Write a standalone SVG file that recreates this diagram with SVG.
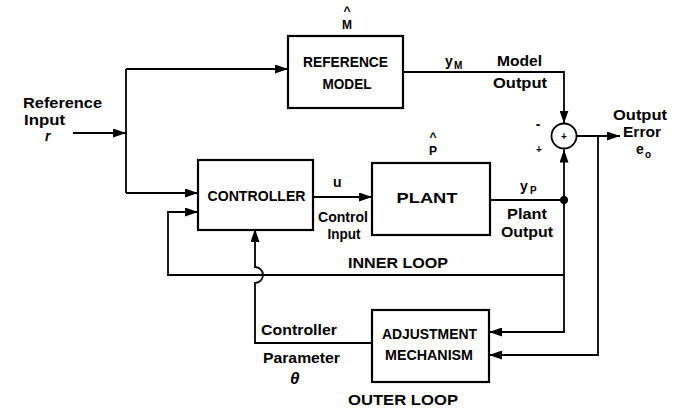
<svg xmlns="http://www.w3.org/2000/svg" width="674" height="410" viewBox="0 0 674 410">
<style>
.box{fill:#fff;stroke:#000;stroke-width:2.2}
.ln{fill:none;stroke:#000;stroke-width:1.8}
.bl{font-family:"Liberation Sans",Arial,sans-serif;font-weight:bold;font-size:15px;fill:#000}
.lb{font-family:"Liberation Sans",Arial,sans-serif;font-weight:bold;font-size:14px;fill:#000}
.sb{font-family:"Liberation Sans",Arial,sans-serif;font-weight:bold;font-size:10px;fill:#000}
.hat{font-family:"Liberation Sans",Arial,sans-serif;font-weight:bold;font-size:12px;fill:#000}
.it{font-family:"Liberation Sans",Arial,sans-serif;font-weight:bold;font-style:italic;font-size:17px;fill:#000}
</style>
<defs>
<marker id="ah" markerUnits="userSpaceOnUse" markerWidth="13" markerHeight="9" refX="13" refY="4.5" orient="auto">
<path d="M0,0 L13,4.5 L0,9 z" fill="#000"/>
</marker>
</defs>
<rect width="674" height="410" fill="#fff"/>

<g id="connectors">
<path class="ln" d="M73,133 L126,133" marker-end="url(#ah)"/>
<path class="ln" d="M126,69 L126,193"/>
<path class="ln" d="M126,69 L288,69" marker-end="url(#ah)"/>
<path class="ln" d="M126,193 L198,193" marker-end="url(#ah)"/>
<path class="ln" d="M313,197 L372,197" marker-end="url(#ah)"/>
<path class="ln" d="M403,72 L564,72 L564,123.5" marker-end="url(#ah)"/>
<path class="ln" d="M490,200 L564,200"/>
<path class="ln" d="M564,200 L564,149.5" marker-end="url(#ah)"/>
<path class="ln" d="M577,136 L620,136" marker-end="url(#ah)"/>
<path class="ln" d="M598,136 L598,355 L489,355" marker-end="url(#ah)"/>
<path class="ln" d="M564,200 L564,332 L489,332" marker-end="url(#ah)"/>
<path class="ln" d="M564,275 L168,275 L168,212 L198,212" marker-end="url(#ah)"/>
<path class="ln" d="M372,343 L255,343 L255,283 A8,8 0 0 0 255,267 L255,229" marker-end="url(#ah)"/>
<circle cx="564" cy="200" r="4" fill="#000"/>
</g>

<g id="reference-model">
<rect class="box" x="288" y="36" width="115" height="72"/>
<text class="bl" x="345.5" y="67" text-anchor="middle" textLength="85" lengthAdjust="spacingAndGlyphs">REFERENCE</text>
<text class="bl" x="347" y="89" text-anchor="middle" textLength="49" lengthAdjust="spacingAndGlyphs">MODEL</text>
<text class="hat" x="347" y="15" text-anchor="middle">^</text>
<text class="hat" x="347" y="29" text-anchor="middle">M</text>
</g>

<g id="controller">
<rect class="box" x="198" y="160" width="115" height="70"/>
<text class="bl" x="256.5" y="201" text-anchor="middle" textLength="98" lengthAdjust="spacingAndGlyphs">CONTROLLER</text>
</g>

<g id="plant">
<rect class="box" x="372" y="163" width="118" height="72"/>
<text class="bl" x="427" y="203" text-anchor="middle" textLength="61" lengthAdjust="spacingAndGlyphs">PLANT</text>
<text class="hat" x="433" y="141" text-anchor="middle">^</text>
<text class="hat" x="433" y="155" text-anchor="middle">P</text>
</g>

<g id="summer">
<circle cx="564" cy="136" r="12.5" fill="#fff" stroke="#000" stroke-width="1.8"/>
<text class="sb" x="564" y="140" text-anchor="middle">+</text>
<text class="lb" x="538" y="129" text-anchor="middle">-</text>
<text class="sb" x="539" y="153" text-anchor="middle">+</text>
</g>

<g id="adjustment-mechanism">
<rect class="box" x="372" y="310" width="117" height="72"/>
<text class="bl" x="429.5" y="339" text-anchor="middle" textLength="95" lengthAdjust="spacingAndGlyphs">ADJUSTMENT</text>
<text class="bl" x="429" y="360" text-anchor="middle" textLength="88" lengthAdjust="spacingAndGlyphs">MECHANISM</text>
</g>

<g id="labels">
<text class="lb" x="23" y="108" textLength="79" lengthAdjust="spacingAndGlyphs">Reference</text>
<text class="lb" x="24" y="125" textLength="41" lengthAdjust="spacingAndGlyphs">Input</text>
<text class="lb" x="45" y="141" font-style="italic">r</text>

<text class="lb" x="445" y="66">y</text>
<text class="sb" x="454" y="69">M</text>
<text class="lb" x="497" y="66" textLength="45" lengthAdjust="spacingAndGlyphs">Model</text>
<text class="lb" x="493" y="88" textLength="54" lengthAdjust="spacingAndGlyphs">Output</text>

<text class="lb" x="613" y="120" textLength="54" lengthAdjust="spacingAndGlyphs">Output</text>
<text class="lb" x="623" y="137" textLength="38" lengthAdjust="spacingAndGlyphs">Error</text>
<text class="lb" x="636" y="154">e</text>
<text class="sb" x="645" y="158">o</text>

<text class="lb" x="333" y="187">u</text>
<text class="lb" x="343" y="222" text-anchor="middle" textLength="50" lengthAdjust="spacingAndGlyphs">Control</text>
<text class="lb" x="344" y="239" text-anchor="middle" textLength="33" lengthAdjust="spacingAndGlyphs">Input</text>

<text class="lb" x="520" y="191">y</text>
<text class="sb" x="530" y="194">P</text>
<text class="lb" x="527" y="219" text-anchor="middle" textLength="40" lengthAdjust="spacingAndGlyphs">Plant</text>
<text class="lb" x="527" y="237" text-anchor="middle" textLength="52" lengthAdjust="spacingAndGlyphs">Output</text>

<text class="lb" x="348" y="268" textLength="100" lengthAdjust="spacingAndGlyphs">INNER LOOP</text>
<text class="lb" x="261" y="335" textLength="76" lengthAdjust="spacingAndGlyphs">Controller</text>
<text class="lb" x="263" y="363" textLength="77" lengthAdjust="spacingAndGlyphs">Parameter</text>
<text class="it" x="290" y="384">θ</text>
<text class="lb" x="348" y="405" textLength="110" lengthAdjust="spacingAndGlyphs">OUTER LOOP</text>
</g>
</svg>
